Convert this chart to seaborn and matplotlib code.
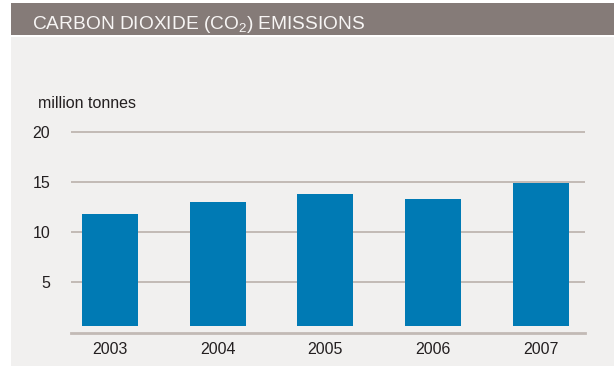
import matplotlib
matplotlib.use("Agg")
import matplotlib.pyplot as plt
from matplotlib.patches import Rectangle
import seaborn as sns
import pandas as pd

# Annual CO2 emissions (million tonnes)
years = ["2003", "2004", "2005", "2006", "2007"]
emissions = [11.8, 13.0, 13.8, 13.3, 14.9]
y_ticks = [5, 10, 15, 20]

title = "CARBON DIOXIDE (CO$_2$) EMISSIONS"
unit_label = "million tonnes"

BAR_COLOR = "#007ab4"
PANEL_COLOR = "#f1f0ef"
HEADER_COLOR = "#857b78"
GRID_COLOR = "#c2bab5"
TEXT_COLOR = "#231f20"
BAR_BASE = 0.6  # bars sit slightly above the baseline

sns.set_theme(style="white")
plt.rcParams["font.family"] = ["Liberation Sans", "DejaVu Sans"]
plt.rcParams["mathtext.fontset"] = "custom"
plt.rcParams["mathtext.rm"] = "Liberation Sans"
plt.rcParams["mathtext.it"] = "Liberation Sans"

W, H = 614, 367
fig = plt.figure(figsize=(W / 100, H / 100), dpi=100, facecolor="white")

# Panel background and header band
fig.patches.append(Rectangle((11 / W, 1 - 366 / H), (W - 11) / W, (366 - 37) / H,
                             transform=fig.transFigure, facecolor=PANEL_COLOR,
                             edgecolor="none", zorder=-10))
fig.patches.append(Rectangle((11 / W, 1 - 35 / H), (W - 11) / W, 32 / H,
                             transform=fig.transFigure, facecolor=HEADER_COLOR,
                             edgecolor="none", zorder=-10))
fig.text(32 / W, 1 - 29 / H, title, color="#f7f5f4", fontsize=13.8,
         ha="left", va="baseline")
fig.text(38 / W, 1 - 103 / H, unit_label, color=TEXT_COLOR, fontsize=11.5,
         ha="left", va="center")

ax = fig.add_axes([71 / W, 1 - 333.3 / H, 514 / W, (333.3 - 126.7) / H])
ax.set_facecolor("none")
ax.set_zorder(1)

df = pd.DataFrame({"year": years, "value": emissions})
df["height"] = df["value"] - BAR_BASE
sns.barplot(data=df, x="year", y="height", color=BAR_COLOR, saturation=1,
            width=0.52, bottom=BAR_BASE, linewidth=0, edgecolor="none",
            ax=ax, zorder=3)

ax.set_ylim(-0.16, 20.5)
ax.set_xlim(-0.362, 4.41)
ax.set_yticks(y_ticks)
ax.set_yticklabels([str(t) for t in y_ticks])
ax.yaxis.grid(True, color=GRID_COLOR, linewidth=1.4)
ax.set_axisbelow(True)
ax.set_xlabel("")
ax.set_ylabel("")

for side in ["top", "right", "left"]:
    ax.spines[side].set_visible(False)
ax.spines["bottom"].set_color(GRID_COLOR)
ax.spines["bottom"].set_linewidth(2)

ax.tick_params(axis="y", length=0, pad=15, labelsize=11.5, labelcolor=TEXT_COLOR)
ax.tick_params(axis="x", length=0, pad=6, labelsize=11.5, labelcolor=TEXT_COLOR)

fig.savefig("out.png", dpi=100, facecolor="white")
